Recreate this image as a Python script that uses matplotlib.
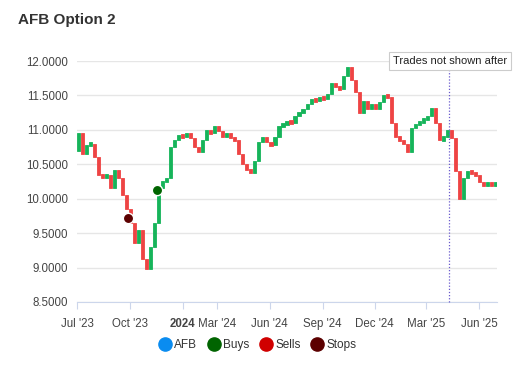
import matplotlib
matplotlib.use("Agg")
import matplotlib.pyplot as plt
import matplotlib.dates as mdates
from matplotlib.lines import Line2D
import numpy as np
import pandas as pd

plt.rcParams['font.family'] = ['Liberation Sans', 'DejaVu Sans']

# weekly closes
start = "2023-07-03"
closes = [10.95, 10.65, 10.78, 10.80, 10.60, 10.35, 10.30, 10.35, 10.15, 10.42,
          10.30, 10.05, 9.85, 9.65, 9.35, 9.55, 9.12, 8.98, 9.30, 9.65,
          10.15, 10.25, 10.30, 10.75, 10.85, 10.92, 10.90, 10.95, 10.88, 10.75,
          10.68, 10.85, 11.00, 10.95, 11.05, 10.98, 10.90, 10.95, 10.88, 10.85,
          10.65, 10.50, 10.42, 10.38, 10.55, 10.82, 10.90, 10.82, 10.78, 10.90,
          11.05, 11.08, 11.12, 11.10, 11.20, 11.25, 11.30, 11.38, 11.45, 11.42,
          11.48, 11.45, 11.52, 11.68, 11.62, 11.60, 11.78, 11.92, 11.72, 11.55,
          11.25, 11.42, 11.30, 11.38, 11.30, 11.40, 11.50, 11.48, 11.10, 10.90,
          10.85, 10.80, 10.68, 11.02, 11.08, 11.12, 11.15, 11.20, 11.32, 11.10,
          10.85, 10.90, 11.00, 10.88, 10.40, 10.00, 10.30, 10.40, 10.38, 10.35,
          10.25, 10.18, 10.24, 10.20, 10.22]
first_open = 10.70

buy_dates = ["2023-11-18"]
buy_prices = [10.13]
stop_dates = ["2023-09-28"]
stop_prices = [9.72]
cutoff_date = "2025-04-09"

tick_dates = ["2023-07-01", "2023-10-01", "2024-01-01", "2024-03-01", "2024-06-01",
              "2024-09-01", "2024-12-01", "2025-03-01", "2025-06-01"]
tick_labels = ["Jul '23", "Oct '23", "2024", "Mar '24", "Jun '24",
               "Sep '24", "Dec '24", "Mar '25", "Jun '25"]
y_ticks = [8.5, 9.0, 9.5, 10.0, 10.5, 11.0, 11.5, 12.0]

dates = pd.date_range(start, periods=len(closes), freq="7D")
closes = np.array(closes)
opens = np.concatenate([[first_open], closes[:-1]])
up = closes >= opens
# give flat weeks a visible body
min_h = 0.06
mid = (opens + closes) / 2
heights = np.maximum(np.abs(closes - opens), min_h)
bottoms = np.minimum(np.minimum(opens, closes), mid - min_h / 2)

green = "#16b45a"
red = "#ee4444"

fig = plt.figure(figsize=(5.3, 3.8), dpi=100)
ax = fig.add_axes([77 / 530, 1 - 302 / 380, (497 - 77) / 530, (302 - 61) / 380])

x = mdates.date2num(dates)
ax.bar(x[up], heights[up], bottom=bottoms[up], width=5.5, color=green,
       edgecolor=green, linewidth=0.6, zorder=3)
ax.bar(x[~up], heights[~up], bottom=bottoms[~up], width=5.5, color=red,
       edgecolor=red, linewidth=0.6, zorder=3)

ax.scatter(pd.to_datetime(stop_dates), stop_prices, s=55, color="#5c0000",
           edgecolor="white", linewidth=1, zorder=5)
ax.scatter(pd.to_datetime(buy_dates), buy_prices, s=55, color="#006400",
           edgecolor="white", linewidth=1, zorder=5)

cx = pd.Timestamp(cutoff_date)
ax.plot([cx, cx], [8.5, 11.87], color="#6a5acd", linestyle=(0, (1, 1.5)),
        linewidth=0.9, zorder=4, clip_on=False)
ax.text(pd.Timestamp("2025-01-02"), 12.0, "Trades not shown after", fontsize=8.0,
        color="#222222", va="center", ha="left", clip_on=False, zorder=6,
        bbox=dict(boxstyle="square,pad=0.35", facecolor="white", edgecolor="#cccccc",
                  linewidth=0.8))

ax.set_xlim(pd.Timestamp("2023-07-01"), pd.Timestamp("2025-07-02"))
ax.set_ylim(8.5, 12.0)
ax.set_yticks(y_ticks)
ax.set_yticklabels([f"{v:.4f}" for v in y_ticks])
ax.set_xticks(pd.to_datetime(tick_dates))
ax.set_xticklabels(tick_labels)
for lab in ax.get_xticklabels():
    if lab.get_text() == "2024":
        lab.set_fontweight("bold")
        lab.set_color("#333333")

ax.grid(axis="y", color="#e6e6e6", linewidth=1)
ax.set_axisbelow(True)
for s in ["top", "right", "left"]:
    ax.spines[s].set_visible(False)
ax.spines["bottom"].set_color("#ccd6eb")
ax.tick_params(axis="y", length=0, pad=6.5, labelsize=8.3, labelcolor="#444444")
ax.tick_params(axis="x", length=5, color="#ccd6eb", pad=6.5, labelsize=8.3,
               labelcolor="#444444")

fig.text(18 / 530, 1 - 20 / 380, "AFB Option 2", fontsize=11, fontweight="bold",
         color="#333333", va="center", ha="left")

handles = [Line2D([], [], marker="o", linestyle="", markersize=9.5, color=c, label=l)
           for c, l in [("#0a8cf0", "AFB"), ("#006400", "Buys"),
                        ("#d00000", "Sells"), ("#5c0000", "Stops")]]
fig.legend(handles=handles, loc="center", bbox_to_anchor=(258 / 530, 1 - 345 / 380),
           ncol=4, frameon=False, fontsize=8.5, handlelength=1.0, handletextpad=0.3,
           columnspacing=0.9, labelcolor="#333333")

fig.savefig("out.png", dpi=100)
